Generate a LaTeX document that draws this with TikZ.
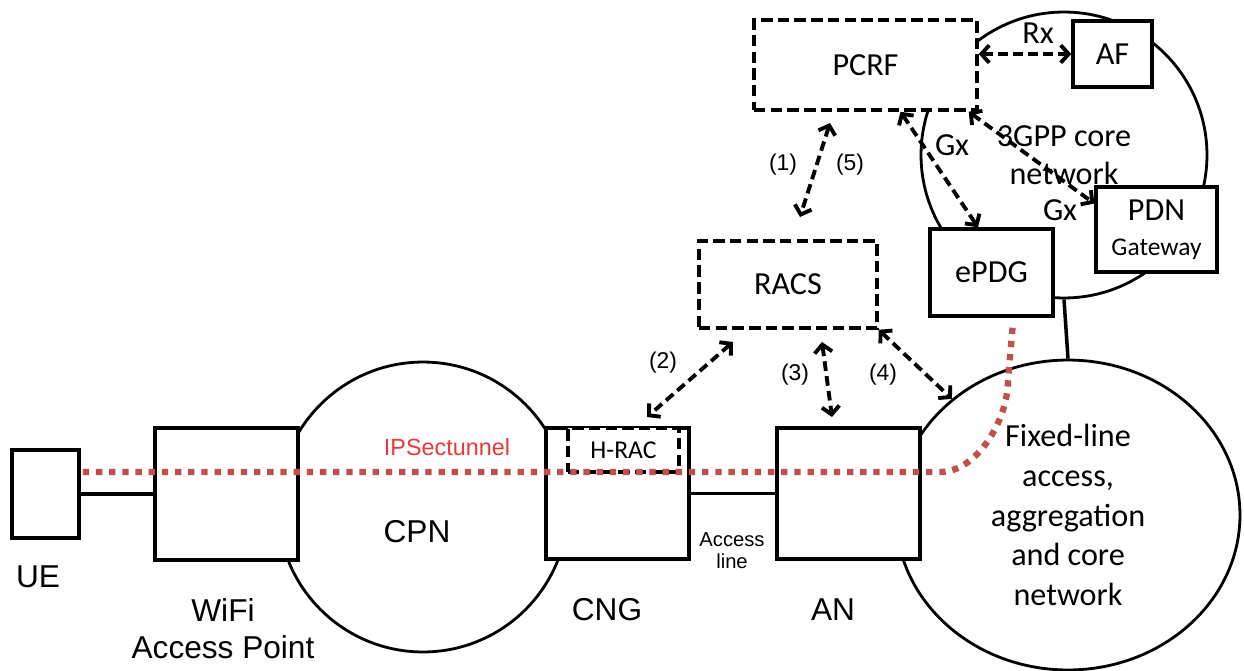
\documentclass[tikz,border=0pt]{standalone}
\usepackage{fontspec}
\setmainfont{Carlito}
\newfontfamily\arialfont{Liberation Sans}
\usetikzlibrary{shapes.geometric,arrows.meta,positioning,calc}
\definecolor{tunnelred}{RGB}{192,80,77}
\definecolor{tunneltext}{RGB}{235,55,55}

\begin{document}
\begin{tikzpicture}[
    x=0.02cm, y=-0.02cm,
    box/.style={rectangle, draw, fill=white, line width=2pt, inner sep=0pt},
    dbox/.style={rectangle, draw, fill=white, line width=2pt, dash pattern=on 6.5pt off 3pt, inner sep=0pt, font=\fontsize{18.3}{22}\selectfont},
    net/.style={draw, line width=1.6pt, inner sep=0pt},
    ctext/.style={font=\fontsize{18.3}{22}\selectfont, inner sep=0pt},
    atext/.style={font=\arialfont\fontsize{18}{21}\selectfont, inner sep=0pt, align=center},
    num/.style={font=\arialfont\fontsize{13}{15}\selectfont, inner sep=0pt},
    link/.style={<->, >={Straight Barb[length=4.5pt,width=10pt]}, line width=2.2pt, dash pattern=on 5.5pt off 3pt},
    wire/.style={line width=2pt},
    tunnel/.style={tunnelred, line width=3.6pt, dash pattern=on 3.6pt off 3.9pt}
]
    \useasboundingbox (0,0) rectangle (1244,670);

    % networks
    \node[net, circle, minimum size=5.72cm, align=center, font=\fontsize{18.3}{21.5}\selectfont] (core) at (1064,155) {3GPP core\\network};
    \node[net, circle, minimum size=5.8cm] (cpn) at (423,507) {};
    \node[atext] (cpnlabel) at (417,532) {CPN};
    \node[net, ellipse, minimum width=6.88cm, minimum height=6.2cm, align=center, font=\fontsize{18.3}{22.7}\selectfont] (fixed) at (1068,515) {Fixed-line\\access,\\aggregation\\and core\\network};
    \draw[wire] (core.south) -- (fixed.north);

    % customer side
    \node[box, minimum width=1.34cm, minimum height=1.76cm] (ue) at (45.5,494) {};
    \node[atext] (uelabel) at (38,577) {UE};
    \node[box, minimum width=2.86cm, minimum height=2.64cm] (wifi) at (226.5,494) {};
    \node[atext] (wifilabel) at (223,629) {WiFi\\Access Point};
    \node[box, minimum width=2.86cm, minimum height=2.62cm] (cng) at (617.5,493.5) {};
    \node[atext] (cnglabel) at (607,610) {CNG};
    \node[dbox, minimum width=2.22cm, minimum height=0.88cm, font=\fontsize{14.6}{17}\selectfont] (hrac) at (623.5,450) {H-RAC};
    \node[box, minimum width=2.86cm, minimum height=2.62cm] (an) at (848.5,493.5) {};
    \node[atext] (anlabel) at (833,610) {AN};

    \draw[wire] (ue.east) -- (ue.east -| wifi.west);
    \draw[wire] (cng.east) -- (an.west);
    \node[font=\arialfont\fontsize{11.5}{12.5}\selectfont, align=center, inner sep=0pt] (accesslabel) at (732,551) {Access\\line};

    % control plane
    \node[dbox, minimum width=3.56cm, minimum height=1.74cm] (racs) at (788,284.5) {RACS};
    \node[dbox, minimum width=4.46cm, minimum height=1.8cm] (pcrf) at (865.5,65) {PCRF};
    \node[box, ctext, minimum width=1.58cm, minimum height=1.32cm] (af) at (1112.5,54) {AF};
    \node[box, ctext, minimum width=2.46cm, minimum height=1.74cm] (epdg) at (991.5,272.5) {ePDG};
    \node[box, align=center, minimum width=2.42cm, minimum height=1.7cm, font=\fontsize{18.3}{19.8}\selectfont] (pdn) at (1156.5,229.5) {PDN\\{\fontsize{14.5}{19.8}\selectfont Gateway}};

    % interfaces
    \coordinate (p15a) at (830,123);
    \coordinate (p15b) at (800,217);
    \coordinate (p2a) at (733,342);
    \coordinate (p2b) at (647,417);
    \coordinate (p3a) at (822,342);
    \coordinate (p3b) at (832,417);
    \draw[link] (p15a) -- (p15b);
    \draw[link] (p2a) -- (p2b);
    \draw[link] (p3a) -- (p3b);
    \draw[link] (racs.south east) -- (fixed.135);
    \draw[link] (pcrf.east |- af.west) -- (af.west);
    \draw[link] ([xshift=0.7cm]pcrf.south) -- ([xshift=-0.27cm]epdg.north);
    \draw[link] ([xshift=-0.2cm]pcrf.south east) -- ([yshift=0.52cm]pdn.west);

    \node[num] (n1) at (783,165) {(1)};
    \node[num] (n5) at (850,165) {(5)};
    \node[num] (n2) at (663,363) {(2)};
    \node[num] (n3) at (795,375) {(3)};
    \node[num] (n4) at (883,375) {(4)};
    \node[ctext] (rx) at (1038,33) {Rx};
    \node[ctext] (gx1) at (952,145) {Gx};
    \node[ctext] (gx2) at (1060,210) {Gx};

    % tunnel
    \coordinate (tunstart) at ($(ue.east)+(2,-22)$);
    \coordinate (tunbend) at (940,472);
    \draw[tunnel] (tunstart) -- (tunbend) .. controls (977,472) and (1008,420) .. (1008,380) -- ($(epdg.south)+(21.5,5)$);
    \node[font=\arialfont\fontsize{13.3}{15}\selectfont, text=tunneltext, inner sep=0pt] (tunlabel) at (447,447) {IPSectunnel};
\end{tikzpicture}
\end{document}
